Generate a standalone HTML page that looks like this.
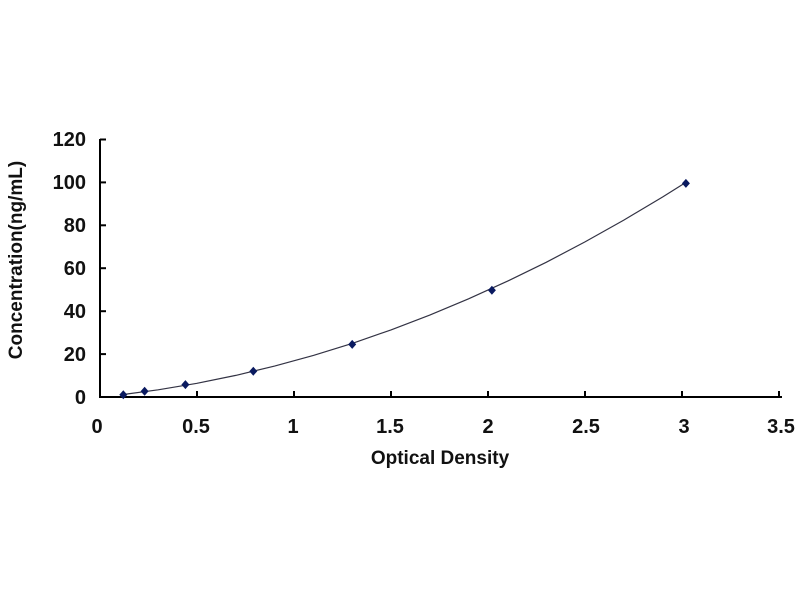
<!DOCTYPE html><html><head><style>body{margin:0;background:#fff}</style></head><body>
<svg width="800" height="600" xmlns="http://www.w3.org/2000/svg" font-family="Liberation Sans, sans-serif" font-weight="bold">
<rect width="800" height="600" fill="#fff"/>
<g stroke="#000" stroke-width="2">
<line x1="100" y1="139" x2="100" y2="398"/>
<line x1="99" y1="397" x2="782" y2="397"/>
<line x1="100" y1="139.5" x2="106" y2="139.5"/>
<line x1="100" y1="182.4" x2="106" y2="182.4"/>
<line x1="100" y1="225.3" x2="106" y2="225.3"/>
<line x1="100" y1="268.2" x2="106" y2="268.2"/>
<line x1="100" y1="311.2" x2="106" y2="311.2"/>
<line x1="100" y1="354.1" x2="106" y2="354.1"/>
<line x1="197" y1="391" x2="197" y2="397"/>
<line x1="294" y1="391" x2="294" y2="397"/>
<line x1="391" y1="391" x2="391" y2="397"/>
<line x1="488" y1="391" x2="488" y2="397"/>
<line x1="585" y1="391" x2="585" y2="397"/>
<line x1="682" y1="391" x2="682" y2="397"/>
<line x1="779" y1="391" x2="779" y2="397"/>
</g>
<g font-size="20" text-anchor="end" fill="#111">
<text x="86" y="146">120</text><text x="86" y="189">100</text><text x="86" y="232">80</text>
<text x="86" y="275">60</text><text x="86" y="318">40</text><text x="86" y="361">20</text><text x="86" y="404">0</text>
</g>
<g font-size="20" text-anchor="middle" fill="#111">
<text x="97" y="433">0</text><text x="196" y="433">0.5</text><text x="293" y="433">1</text><text x="390" y="433">1.5</text>
<text x="488" y="433">2</text><text x="586" y="433">2.5</text><text x="684" y="433">3</text><text x="781" y="433">3.5</text>
</g>
<text x="440" y="464" font-size="19" text-anchor="middle" fill="#111">Optical Density</text>
<text transform="translate(22,260) rotate(-90)" font-size="19" text-anchor="middle" fill="#111">Concentration(ng/mL)</text>
<polyline points="123.3,394.5 158.2,389.8 197,383.3 235.8,375.4 274.6,366.1 313.4,355.4 352.2,343.4 391,329.9 429.8,315.1 468.6,298.8 507.4,281.2 546.2,262.3 585,241.9 623.8,220.1 662.6,197 685.9,182.4" fill="none" stroke="#334" stroke-width="1.2"/>
<g fill="#0a1a60">
<path d="M123.3,390.3l4,4.5l-4,4.5l-4,-4.5z"/>
<path d="M144.6,386.8l4,4.5l-4,4.5l-4,-4.5z"/>
<path d="M185.4,380.1l4,4.5l-4,4.5l-4,-4.5z"/>
<path d="M253.3,366.7l4,4.5l-4,4.5l-4,-4.5z"/>
<path d="M352.2,339.9l4,4.5l-4,4.5l-4,-4.5z"/>
<path d="M491.9,285.7l4,4.5l-4,4.5l-4,-4.5z"/>
<path d="M685.9,178.9l4,4.5l-4,4.5l-4,-4.5z"/>
</g>
</svg>
</body></html>
